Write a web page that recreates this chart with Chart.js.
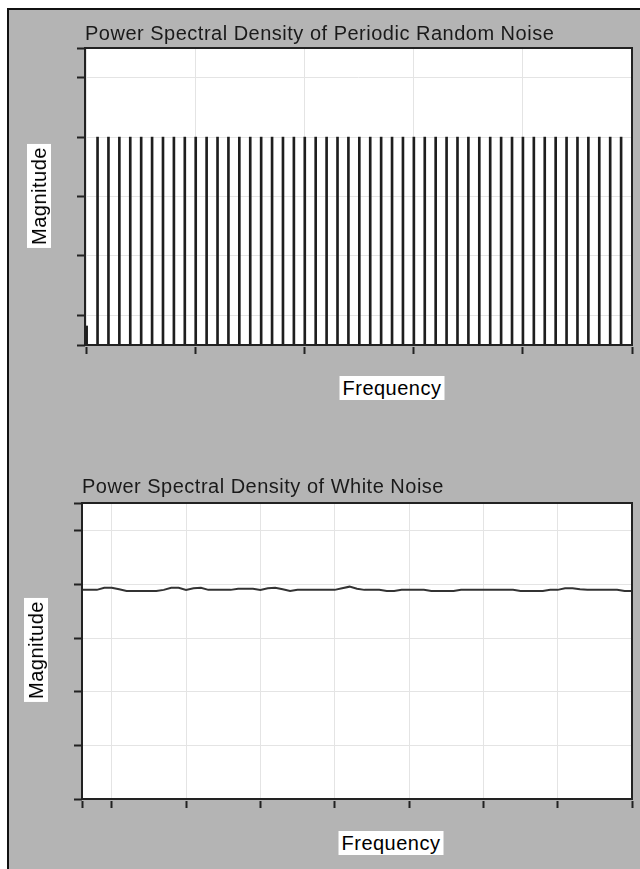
<!DOCTYPE html>
<html>
<head>
<meta charset="utf-8">
<script src="https://cdn.jsdelivr.net/npm/chart.js@4/dist/chart.umd.min.js"></script>
<style>
  html, body { margin: 0; padding: 0; background: #fff; }
  #page { position: relative; width: 640px; height: 869px; overflow: hidden; background: #fff; }
  #panel { position: absolute; left: 7px; top: 8px; width: 633px; height: 861px; background: #b4b4b4;
           border-left: 2px solid #111; border-top: 2px solid #111; box-sizing: border-box; }
  canvas { position: absolute; left: 0; }
  .lbl { position: absolute; background: #fff; color: #000; font: 20px "Liberation Sans", Arial, sans-serif;
         letter-spacing: 0.5px; line-height: 24px; padding: 0 3px; white-space: nowrap;
         transform: translate(-50%, -50%); }
  .rot { transform: translate(-50%, -50%) rotate(-90deg); }
</style>
</head>
<body>
<div id="page">
  <div id="panel"></div>
  <canvas id="periodic" width="640" height="400" style="top:0px"></canvas>
  <canvas id="white" width="640" height="400" style="top:440px"></canvas>
  <div class="lbl" style="left:392px; top:388px">Frequency</div>
  <div class="lbl" style="left:391px; top:843px">Frequency</div>
  <div class="lbl rot" style="left:39px; top:196px">Magnitude</div>
  <div class="lbl rot" style="left:36px; top:650px">Magnitude</div>
</div>
<script>
// chart 1 - periodic random noise, one line per frequency bin
const periodicFreq = [0, 1, 2, 3, 4, 5, 6, 7, 8, 9, 10, 11, 12, 13, 14, 15, 16, 17, 18, 19, 20, 21, 22, 23, 24,
  25, 26, 27, 28, 29, 30, 31, 32, 33, 34, 35, 36, 37, 38, 39, 40, 41, 42, 43, 44, 45, 46, 47, 48, 49];
const periodicMag = [0.32, 3.5, 3.5, 3.5, 3.5, 3.5, 3.5, 3.5, 3.5, 3.5, 3.5, 3.5, 3.5, 3.5, 3.5, 3.5, 3.5, 3.5,
  3.5, 3.5, 3.5, 3.5, 3.5, 3.5, 3.5, 3.5, 3.5, 3.5, 3.5, 3.5, 3.5, 3.5, 3.5, 3.5, 3.5, 3.5, 3.5, 3.5, 3.5, 3.5,
  3.5, 3.5, 3.5, 3.5, 3.5, 3.5, 3.5, 3.5, 3.5, 3.5];
const periodicXTicks = [0, 10, 20, 30, 40, 50];
const periodicYTicks = [0, 0.5, 1.5, 2.5, 3.5, 4.5, 5];

// chart 2 - white noise, nearly flat
const whiteFreq = [-0.4, -0.3, -0.2, -0.1, 0, 0.1, 0.2, 0.3, 0.4, 0.5, 0.6, 0.7, 0.8, 0.9, 1, 1.1, 1.2, 1.3, 1.4,
  1.5, 1.6, 1.7, 1.8, 1.9, 2, 2.1, 2.2, 2.3, 2.4, 2.5, 2.6, 2.7, 2.8, 2.9, 3, 3.1, 3.2, 3.3, 3.4, 3.5, 3.6, 3.7,
  3.8, 3.9, 4, 4.1, 4.2, 4.3, 4.4, 4.5, 4.6, 4.7, 4.8, 4.9, 5, 5.1, 5.2, 5.3, 5.4, 5.5, 5.6, 5.7, 5.8, 5.9, 6,
  6.1, 6.2, 6.3, 6.4, 6.5, 6.6, 6.7, 6.8, 6.9, 7];
const whiteMag = [3.90, 3.90, 3.90, 3.94, 3.94, 3.91, 3.88, 3.88, 3.88, 3.88, 3.88, 3.90, 3.94, 3.94, 3.90,
  3.93, 3.94, 3.90, 3.90, 3.90, 3.90, 3.92, 3.92, 3.92, 3.90, 3.93, 3.94, 3.91, 3.88, 3.90, 3.90, 3.90, 3.90,
  3.90, 3.90, 3.93, 3.96, 3.92, 3.90, 3.90, 3.90, 3.88, 3.88, 3.90, 3.90, 3.90, 3.90, 3.88, 3.88, 3.88, 3.88,
  3.90, 3.90, 3.90, 3.90, 3.90, 3.90, 3.90, 3.90, 3.88, 3.88, 3.88, 3.88, 3.90, 3.90, 3.93, 3.93, 3.91, 3.90,
  3.90, 3.90, 3.90, 3.90, 3.88, 3.88];
const whiteXTicks = [-0.4, 0, 1, 2, 3, 4, 5, 6, 7];
const whiteYTicks = [0, 1, 2, 3, 4, 5, 5.52];

// white plot box, dark frame round it
const plotFrame = {
  id: 'plotFrame',
  beforeDraw(chart) {
    const a = chart.chartArea, ctx = chart.ctx;
    ctx.save();
    ctx.fillStyle = '#fff';
    ctx.fillRect(a.left, a.top, a.right - a.left, a.bottom - a.top);
    ctx.restore();
    ctx.letterSpacing = '0.5px';
  },
  afterDatasetsDraw(chart) {
    const a = chart.chartArea, ctx = chart.ctx;
    ctx.save();
    ctx.strokeStyle = '#222';
    ctx.lineWidth = 2;
    ctx.strokeRect(a.left, a.top, a.right - a.left, a.bottom - a.top);
    ctx.restore();
  }
};

function axis(min, max, tickList, tickLength, dash) {
  return {
    type: 'linear',
    min: min,
    max: max,
    offset: false,
    afterBuildTicks: function(scale) {
      scale.ticks = tickList.map(v => ({ value: v }));
    },
    ticks: { display: false },
    border: { display: false },
    grid: {
      color: '#e4e4e4',
      lineWidth: 1,
      offset: false,
      drawTicks: true,
      tickLength: tickLength,
      tickColor: '#222',
      tickWidth: 2,
      tickBorderDash: dash
    }
  };
}

function titleOpts(text, top, bottom) {
  return {
    display: true,
    text: text,
    align: 'start',
    fullSize: false,
    color: '#1a1a1a',
    font: { family: 'Liberation Sans', size: 20, weight: 'normal', lineHeight: 1.2 },
    padding: { top: top, bottom: bottom }
  };
}

new Chart(document.getElementById('periodic'), {
  type: 'bar',
  data: {
    datasets: [{
      data: periodicFreq.map((f, i) => ({ x: f, y: periodicMag[i] })),
      backgroundColor: '#1e1e1e',
      barThickness: 2,
      grouped: false
    }]
  },
  options: {
    responsive: false,
    animation: false,
    devicePixelRatio: 1,
    layout: { padding: { left: 74, right: 8, top: 0, bottom: 46 } },
    scales: {
      x: axis(-0.15, 50, periodicXTicks, 9, [0, 2, 7, 0]),
      y: axis(0, 5, periodicYTicks, 11, [0, 3, 8, 0])
    },
    plugins: {
      legend: { display: false },
      tooltip: { enabled: false },
      title: titleOpts('Power Spectral Density of Periodic Random Noise', 22, 2)
    }
  },
  plugins: [plotFrame]
});

new Chart(document.getElementById('white'), {
  type: 'line',
  data: {
    datasets: [{
      data: whiteFreq.map((f, i) => ({ x: f, y: whiteMag[i] })),
      borderColor: '#333',
      borderWidth: 2,
      pointRadius: 0,
      tension: 0
    }]
  },
  options: {
    responsive: false,
    animation: false,
    devicePixelRatio: 1,
    layout: { padding: { left: 71, right: 8, top: 0, bottom: 32 } },
    scales: {
      x: axis(-0.4, 7, whiteXTicks, 9, [0, 2, 7, 0]),
      y: axis(0, 5.52, whiteYTicks, 11, [0, 3, 8, 0])
    },
    plugins: {
      legend: { display: false },
      tooltip: { enabled: false },
      title: titleOpts('Power Spectral Density of White Noise', 35, 4)
    }
  },
  plugins: [plotFrame]
});
</script>
</body>
</html>
